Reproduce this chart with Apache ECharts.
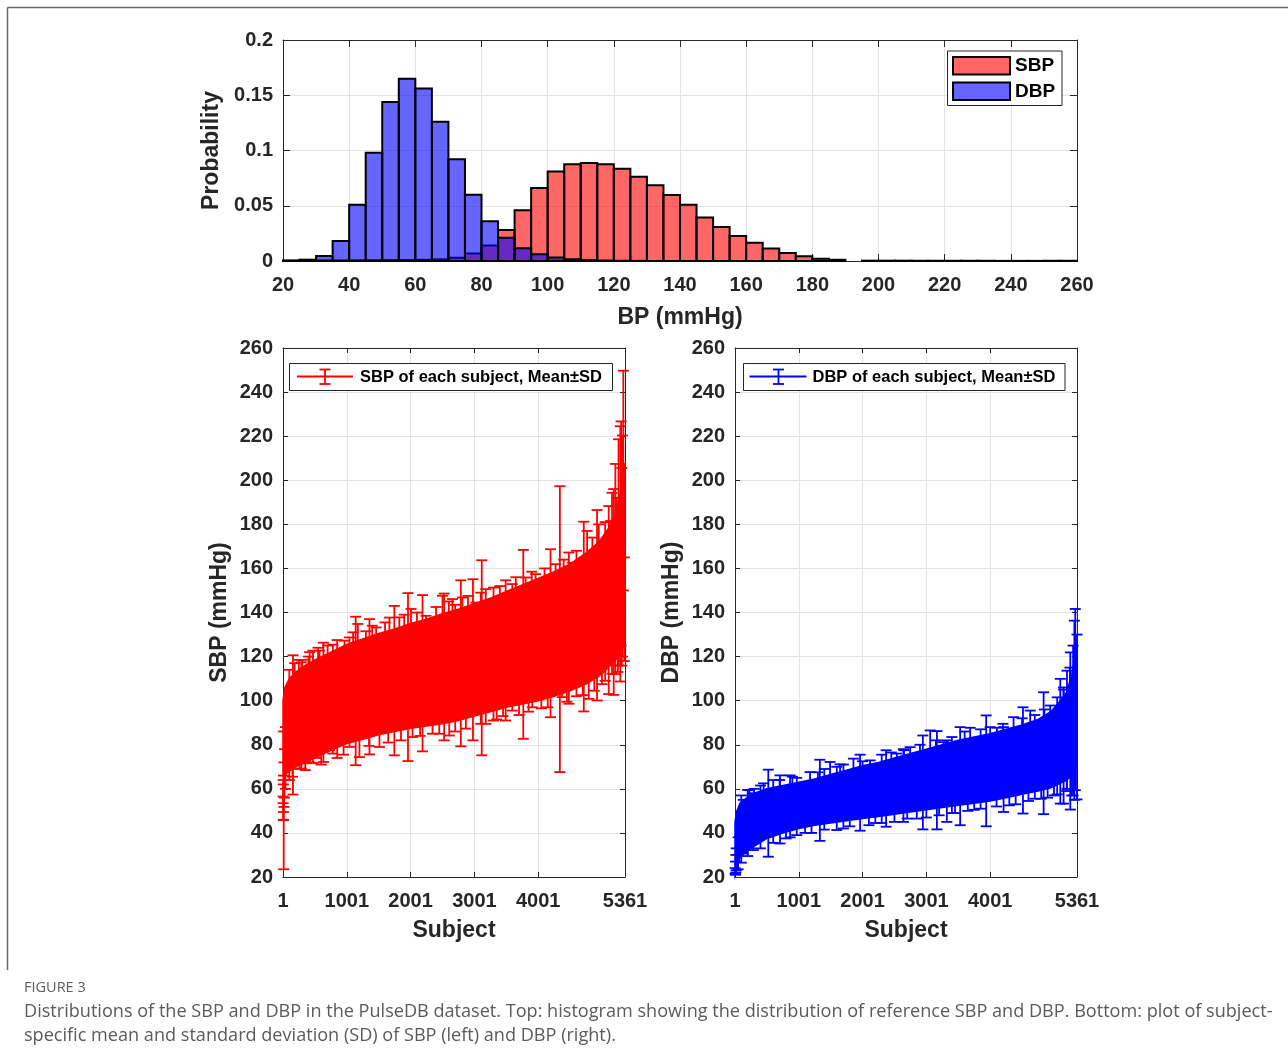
<!DOCTYPE html>
<html><head><meta charset="utf-8">
<script src="https://cdn.jsdelivr.net/npm/echarts@6/dist/echarts.min.js"></script>
<style>html,body{margin:0;padding:0;background:#fff}#c{width:1288px;height:1053px}</style>
</head><body><div id="c"></div>
<script>
// ---------------- DATA ----------------
// Histogram bins (start of each 5 mmHg bin)
const binStarts = [20,25,30,35,40,45,50,55,60,65,70,75,80,85,90,95,100,105,110,115,120,125,130,135,140,145,150,155,160,165,170,175,180,185,190,195,200,205,210,215,220,225,230,235,240,245,250,255];
const binWidth = 5;
const sbpProb = [0.0003,0.0004,0.0005,0.0005,0.0006,0.0007,0.0008,0.0009,0.0011,0.0015,0.003,0.0068,0.014,0.028,0.046,0.066,0.081,0.0876,0.0888,0.0876,0.0834,0.0762,0.0686,0.0598,0.0508,0.0393,0.0308,0.0227,0.0166,0.0112,0.0072,0.0042,0.002,0.0011,0,0.0003,0.0003,0.0003,0.0002,0.0002,0.0002,0.0002,0.0002,0.0001,0.0001,0.0001,0.0002,0.0002];
const dbpProb = [0.0004,0.0012,0.0045,0.018,0.051,0.098,0.144,0.165,0.156,0.126,0.092,0.060,0.036,0.021,0.0115,0.006,0.0032,0.0016,0.0008,0.0004,0.0002,0.0001,0,0,0,0,0,0,0,0,0,0,0,0,0,0,0,0,0,0,0,0,0,0,0,0,0,0];

// Subject axis tick labels
const subjectTicks = [1, 1001, 2001, 3001, 4001, 5361];

// SBP: dense core of the overlapping error bars (sorted subjects)
const sbpBandSubject = [1,30,100,200,350,500,750,1000,1250,1500,1750,2000,2250,2500,2750,3000,3250,3500,3750,4000,4250,4500,4750,4950,5100,5200,5280,5330,5361];
const sbpBandHigh    = [100,106,110,113,116,118.5,122,125.5,128,130.5,132.5,135,137,139.5,141.5,144,146.5,149.5,152.5,155.5,158.5,162,167,172,178,184,193,200,208];
const sbpBandLow     = [66,66.5,68,70,72,74,77.5,80.5,82.5,84.5,86,87.5,88.5,89.5,91,93,95,97,98.5,100,102,104.5,107.5,111,115,118,121,124,128];

// SBP: individually visible error bars [subject, mean-SD, mean+SD]
const sbpBars = [
 [3,53.5,56.5],[5,46,64],[7,49.5,62],[9,45.8,66],[12,23.5,86],[16,51.8,72],[25,56,78],[40,60,88],
 [157,57.4,120.6],[184,95,117],[260,69,95],[288,69.2,117.4],[300,92,118.5],[370,71.6,95],[418,95,122],
 [420,72,98],[470,71.7,122.7],[520,74,98],[574,98,122.7],[626,76.7,100],[634,72.2,126.3],[730,77.5,100],
 [782,76,125.4],[965,100,127.2],[1043,79,128.7],[1140,70.7,138.1],[1173,105,134.8],[1199,74.4,105],
 [1356,75.6,137],[1460,107,133.2],[1512,79,108],[1668,108,137.7],[1746,75.2,143],[1824,110,137.8],
 [1960,72.6,148.8],[2007,111,141.6],[2032,83.5,111],[2188,77,147.9],[2242,112,138.5],[2345,85,113],
 [2501,114,147.6],[2527,82,148.6],[2606,84.2,115],[2657,115,146.1],[2788,79.3,154.6],[2813,117,146.8],
 [2867,87.3,117],[2978,82,155.1],[3023,118,144.5],[3116,75.2,163.7],[3179,89.5,150.6],[3300,91,151.3],
 [3491,91,154.6],[3595,95.5,152.9],[3767,82.7,168.4],[3804,126,155.9],[3908,97,127],[3960,128,157.4],
 [4194,92.5,168.7],[4273,130,161.9],[4340,67.6,197.3],[4376,101.6,132],[4481,98.6,167.2],[4533,133,162.6],
 [4715,95.1,181.2],[4767,137,177],[4793,100.8,138],[4923,100.1,186.5],[4950,142,180],[5106,103,188.3],
 [5132,148,181.5],[5157,112.2,194.3],[5184,102.6,196],[5210,112,207.4],[5260,116,218.6],[5288,108.7,224.5],
 [5300,125,226.7],[5310,115.9,205.6],[5320,120,220.3],[5335,150,249.7],
 // ragged upper edge
 [100,89,114],[250,93,118.5],[400,95,120],[550,97,124],[700,99,125],[850,101,127.5],[1100,104,131],
 [1300,106,131.5],[1400,107,134],[1600,108,135.5],[1900,110,139],[2100,112,140],[2400,114,142.5],
 [2600,115,145],[2700,116,143.5],[2900,118,147.5],[3100,119,149],[3400,122,152],[3650,125,156],
 [3900,127,158.5],[4100,128,160],[4400,132,164],[4600,134,168],[4850,139,174],[5050,144,181],[5230,153,192],
 // ragged lower edge
 [100,64,89],[150,65.5,90],[350,68.5,94],[600,71,97],[850,74,101],[950,75.5,102],[1350,79.5,106],
 [1650,81,108],[1850,82,110],[2150,84,112],[2450,85,114],[2700,86,116],[3100,89.5,120],[3350,91.5,122],
 [3450,93,123],[3700,93.5,125],[3850,95,127],[4050,96.5,128],[4150,97,129],[4450,99.5,132],[4600,102,134],
 [4700,102.5,136],[4880,104.5,140],[5000,107.5,142],[5050,109,145],[5250,113,155],[5350,118,165]
];

// DBP: dense core
const dbpBandSubject = [1,30,80,250,500,750,1000,1250,1500,1750,2000,2250,2500,2750,3000,3250,3500,3750,4000,4250,4500,4750,4950,5100,5200,5280,5330,5361];
const dbpBandHigh    = [45,50,53.5,57.5,60,61.5,63,64.5,66.5,68.5,70.5,72,74,76,78,80,82,83.5,85,87,89,91.5,95,100,104,112,120,126];
const dbpBandLow     = [21,24,29,33,37.5,40,42,43.5,44.5,45.5,46.5,47.5,48.5,49.5,50.5,51.5,52.5,53.5,54.5,56,57.5,59,60.5,62.5,64,66,68,71];

// DBP: individually visible error bars [subject, mean-SD, mean+SD]
const dbpBars = [
 [3,21.5,24],[8,21,27],[14,22,30],[20,23,33],[131,30.7,55],[226,33,59.4],[288,32.2,58],[300,40,60],
 [450,42,62.5],[523,29.2,68.7],[600,45,64],[706,35.2,66.1],[864,38,66.1],[969,39,65],[1100,40,55],
 [1177,52,67.6],[1331,36.4,73.2],[1491,55,72.2],[1596,41.3,70],[1648,56,71.1],[1800,43,60],[1857,58,73.7],
 [1961,41,75.5],[2119,59,72.9],[2200,44.5,62],[2369,42.8,77.5],[2537,61,76],[2641,45,78],[2746,63,78.9],
 [2850,46.5,66],[2945,41.6,84.2],[3060,65,86.5],[3165,41.6,86.2],[3269,66,81.2],[3321,45,82],[3400,49,70],
 [3530,43.5,88],[3687,68,87.7],[3750,50.5,72],[3938,43,93.3],[4106,70,87.7],[4210,49.5,88],[4367,72,92.5],
 [4400,53,76],[4514,48.8,97],[4628,74,95.5],[4700,55.5,80],[4838,48.5,103.8],[4942,77,97.8],[5000,57,84],
 [5099,53.3,109.9],[5151,53.3,105],[5204,60,113.6],[5256,50.6,121.9],[5300,57,125],[5320,55,136.3],
 [5334,59.4,141.6],[5361,55.2,130],
 // ragged upper edge
 [100,42,57],[200,44,59.5],[400,47,61.5],[700,50,64],[900,52,65.5],[1300,54,67.5],[1400,55,69],[1700,57,71],
 [2000,58,72.5],[2300,60,75.5],[2450,61,76.5],[2650,62,77.5],[2900,64,80],[3150,65,82],[3400,67,83.5],
 [3600,68,86],[3850,69,87],[4000,70,88],[4200,71,89.5],[4500,73,92],[4700,75,93.5],[4850,76,96],
 [5050,80,101.5],[5150,83,106],[5250,87,115],
 // ragged lower edge
 [50,23.5,38],[100,26.5,42],[200,29.5,44],[400,33,47],[600,35.5,49],[800,37.5,51],[1200,40,54],[1400,41.5,55],
 [1700,42,57],[2100,43.5,59],[2300,44.5,60],[2500,45,61],[2700,46.5,62],[3000,47,64],[3200,48,65],[3450,49,67],
 [3650,50,68],[3850,51,69],[4100,52,70],[4300,52.5,72],[4600,54.5,74],[4800,55.5,76],[4900,56,77],
 [5050,57.5,80],[5200,59,85],[5280,57,90]
];

// ---------------- CHART ----------------
const FONT = '"Liberation Sans", Arial, Helvetica, sans-serif';
const AX = '#262626';
const GRIDC = '#e3e3e3';
const chart = echarts.init(document.getElementById('c'), null, {renderer: 'canvas'});

function histRender(fill) {
  return function (params, api) {
    const x0 = api.value(0), p = api.value(1);
    if (!(p > 0)) return null;
    const a = api.coord([x0, p]);
    const b = api.coord([x0 + binWidth, 0]);
    return {type: 'rect', shape: {x: a[0], y: a[1], width: b[0] - a[0], height: b[1] - a[1]},
      style: {fill: fill, stroke: '#000', lineWidth: 2}};
  };
}
function bandRender(subj, lo, hi, color) {
  return function (params, api) {
    const pts = [];
    for (let i = 0; i < subj.length; i++) pts.push(api.coord([subj[i], hi[i]]));
    for (let i = subj.length - 1; i >= 0; i--) pts.push(api.coord([subj[i], lo[i]]));
    return {type: 'polygon', shape: {points: pts}, style: {fill: color, stroke: color, lineWidth: 1.5}};
  };
}
function errRender(color) {
  return function (params, api) {
    const s = api.value(0), lo = api.value(1), hi = api.value(2);
    const a = api.coord([s, lo]), b = api.coord([s, hi]);
    const hw = 5.5;
    const st = {stroke: color, lineWidth: 1.8};
    return {type: 'group', children: [
      {type: 'line', shape: {x1: a[0], y1: a[1], x2: b[0], y2: b[1]}, style: st},
      {type: 'line', shape: {x1: a[0] - hw, y1: a[1], x2: a[0] + hw, y2: a[1]}, style: st},
      {type: 'line', shape: {x1: b[0] - hw, y1: b[1], x2: b[0] + hw, y2: b[1]}, style: st}
    ]};
  };
}

const labelStyle = {color: AX, fontSize: 20, fontWeight: 'bold', fontFamily: FONT};
const nameStyle = {color: AX, fontSize: 23, fontWeight: 'bold', fontFamily: FONT};
const fmtPlain = v => String(v);

function xMain(grid, extra) {
  return Object.assign({
    gridIndex: grid, type: 'value', position: 'bottom',
    axisLine: {show: true, onZero: false, lineStyle: {color: AX, width: 1}},
    axisTick: {show: true, inside: true, length: 7, lineStyle: {color: AX}},
    axisLabel: Object.assign({margin: 14, formatter: fmtPlain}, labelStyle),
    splitLine: {show: true, lineStyle: {color: GRIDC, width: 1}},
    nameLocation: 'middle', nameTextStyle: nameStyle
  }, extra);
}
function xTop(grid, extra) {
  return Object.assign({
    gridIndex: grid, type: 'value', position: 'top',
    axisLine: {show: true, onZero: false, lineStyle: {color: AX, width: 1}},
    axisTick: {show: true, inside: true, length: 7, lineStyle: {color: AX}},
    axisLabel: {show: false}, splitLine: {show: false}
  }, extra);
}
function yMain(grid, extra) {
  return Object.assign({
    gridIndex: grid, type: 'value', position: 'left',
    axisLine: {show: true, onZero: false, lineStyle: {color: AX, width: 1}},
    axisTick: {show: true, inside: true, length: 7, lineStyle: {color: AX}},
    axisLabel: Object.assign({margin: 10}, labelStyle),
    splitLine: {show: true, lineStyle: {color: GRIDC, width: 1}},
    nameLocation: 'middle', nameRotate: 90, nameTextStyle: nameStyle
  }, extra);
}
function yRight(grid, extra) {
  return Object.assign({
    gridIndex: grid, type: 'value', position: 'right',
    axisLine: {show: true, onZero: false, lineStyle: {color: AX, width: 1}},
    axisTick: {show: true, inside: true, length: 7, lineStyle: {color: AX}},
    axisLabel: {show: false}, splitLine: {show: false}
  }, extra);
}

const subjTick = {show: true, inside: true, length: 5, lineStyle: {color: AX}, customValues: subjectTicks};
const subjLabel = Object.assign({margin: 14, formatter: fmtPlain, customValues: subjectTicks}, labelStyle);
const bpTick = {show: true, inside: true, length: 5, lineStyle: {color: AX}};

const option = {
  animation: false,
  backgroundColor: '#fff',
  grid: [
    {left: 283, top: 40, width: 794, height: 221},
    {left: 283, top: 348, width: 342, height: 529},
    {left: 735, top: 348, width: 342, height: 529}
  ],
  xAxis: [
    xMain(0, {min: 20, max: 260, interval: 20, name: 'BP (mmHg)', nameGap: 45}),
    xTop(0, {min: 20, max: 260, interval: 20}),
    xMain(1, {min: 1, max: 5361, axisTick: subjTick, axisLabel: subjLabel, name: 'Subject', nameGap: 42}),
    xTop(1, {min: 1, max: 5361, axisTick: subjTick}),
    xMain(2, {min: 1, max: 5361, axisTick: subjTick, axisLabel: subjLabel, name: 'Subject', nameGap: 42}),
    xTop(2, {min: 1, max: 5361, axisTick: subjTick})
  ],
  yAxis: [
    yMain(0, {min: 0, max: 0.2, interval: 0.05, name: 'Probability', nameGap: 58}),
    yRight(0, {min: 0, max: 0.2, interval: 0.05}),
    yMain(1, {min: 20, max: 260, interval: 20, axisTick: bpTick, name: 'SBP (mmHg)', nameGap: 52}),
    yRight(1, {min: 20, max: 260, interval: 20, axisTick: bpTick}),
    yMain(2, {min: 20, max: 260, interval: 20, axisTick: bpTick, name: 'DBP (mmHg)', nameGap: 52}),
    yRight(2, {min: 20, max: 260, interval: 20, axisTick: bpTick})
  ],
  series: [
    {type: 'custom', name: 'SBP', xAxisIndex: 0, yAxisIndex: 0, renderItem: histRender('rgba(255,0,0,0.6)'),
      data: binStarts.map((b, i) => [b, sbpProb[i]]), encode: {x: 0, y: 1}, z: 2},
    {type: 'custom', name: 'DBP', xAxisIndex: 0, yAxisIndex: 0, renderItem: histRender('rgba(0,0,255,0.6)'),
      data: binStarts.map((b, i) => [b, dbpProb[i]]), encode: {x: 0, y: 1}, z: 3},
    {type: 'custom', name: 'SBP band', xAxisIndex: 2, yAxisIndex: 2,
      renderItem: bandRender(sbpBandSubject, sbpBandLow, sbpBandHigh, '#ff0000'),
      data: [[sbpBandSubject[0], sbpBandLow[0]]], encode: {x: 0, y: 1}, z: 2, silent: true},
    {type: 'custom', name: 'SBP of each subject', xAxisIndex: 2, yAxisIndex: 2, renderItem: errRender('#ff0000'),
      data: sbpBars, encode: {x: 0, y: [1, 2]}, z: 3},
    {type: 'custom', name: 'DBP band', xAxisIndex: 4, yAxisIndex: 4,
      renderItem: bandRender(dbpBandSubject, dbpBandLow, dbpBandHigh, '#0000ff'),
      data: [[dbpBandSubject[0], dbpBandLow[0]]], encode: {x: 0, y: 1}, z: 2, silent: true},
    {type: 'custom', name: 'DBP of each subject', xAxisIndex: 4, yAxisIndex: 4, renderItem: errRender('#0000ff'),
      data: dbpBars, encode: {x: 0, y: [1, 2]}, z: 3}
  ],
  graphic: [
    // outer figure frame
    {type: 'line', shape: {x1: 7.5, y1: 7.5, x2: 1288, y2: 7.5}, style: {stroke: '#6b6b6b', lineWidth: 1.5}, z: 10},
    {type: 'line', shape: {x1: 7.5, y1: 7.5, x2: 7.5, y2: 970}, style: {stroke: '#6b6b6b', lineWidth: 1.5}, z: 10},
    // histogram legend
    {type: 'rect', shape: {x: 947.5, y: 51, width: 114.5, height: 54.5}, style: {fill: '#fff', stroke: AX, lineWidth: 1}, z: 20},
    {type: 'rect', shape: {x: 953, y: 57, width: 57, height: 17.5}, style: {fill: 'rgba(255,0,0,0.6)', stroke: '#000', lineWidth: 2}, z: 21},
    {type: 'rect', shape: {x: 953, y: 82.5, width: 57, height: 17.5}, style: {fill: 'rgba(0,0,255,0.6)', stroke: '#000', lineWidth: 2}, z: 21},
    {type: 'text', style: {x: 1015, y: 66, text: 'SBP', fill: '#000', font: 'bold 19px ' + FONT, textVerticalAlign: 'middle'}, z: 21},
    {type: 'text', style: {x: 1015, y: 91.5, text: 'DBP', fill: '#000', font: 'bold 19px ' + FONT, textVerticalAlign: 'middle'}, z: 21},
    // SBP error-bar legend
    {type: 'rect', shape: {x: 289.5, y: 363.5, width: 323, height: 27}, style: {fill: '#fff', stroke: AX, lineWidth: 1}, z: 20},
    {type: 'line', shape: {x1: 297, y1: 376.5, x2: 353, y2: 376.5}, style: {stroke: '#ff0000', lineWidth: 1.8}, z: 21},
    {type: 'line', shape: {x1: 325, y1: 369.5, x2: 325, y2: 384}, style: {stroke: '#ff0000', lineWidth: 1.8}, z: 21},
    {type: 'line', shape: {x1: 319.5, y1: 369.5, x2: 330.5, y2: 369.5}, style: {stroke: '#ff0000', lineWidth: 1.8}, z: 21},
    {type: 'line', shape: {x1: 319.5, y1: 384, x2: 330.5, y2: 384}, style: {stroke: '#ff0000', lineWidth: 1.8}, z: 21},
    {type: 'text', style: {x: 360, y: 377.5, text: 'SBP of each subject, Mean\u00B1SD', fill: '#000', font: 'bold 16.5px ' + FONT, textVerticalAlign: 'middle'}, z: 21},
    // DBP error-bar legend
    {type: 'rect', shape: {x: 743.5, y: 363.5, width: 321.5, height: 27}, style: {fill: '#fff', stroke: AX, lineWidth: 1}, z: 20},
    {type: 'line', shape: {x1: 749.5, y1: 376.5, x2: 806.5, y2: 376.5}, style: {stroke: '#0000ff', lineWidth: 1.8}, z: 21},
    {type: 'line', shape: {x1: 778.5, y1: 369.5, x2: 778.5, y2: 384}, style: {stroke: '#0000ff', lineWidth: 1.8}, z: 21},
    {type: 'line', shape: {x1: 773, y1: 369.5, x2: 784, y2: 369.5}, style: {stroke: '#0000ff', lineWidth: 1.8}, z: 21},
    {type: 'line', shape: {x1: 773, y1: 384, x2: 784, y2: 384}, style: {stroke: '#0000ff', lineWidth: 1.8}, z: 21},
    {type: 'text', style: {x: 812.5, y: 377.5, text: 'DBP of each subject, Mean\u00B1SD', fill: '#000', font: 'bold 16.5px ' + FONT, textVerticalAlign: 'middle'}, z: 21},
    // caption
    {type: 'text', style: {x: 24, y: 988, text: 'FIGURE 3', fill: '#5e5e5e', font: '14.5px "Open Sans", sans-serif', textVerticalAlign: 'middle'}, z: 21},
    {type: 'text', style: {x: 24, y: 1012, text: 'Distributions of the SBP and DBP in the PulseDB dataset. Top: histogram showing the distribution of reference SBP and DBP. Bottom: plot of subject-', fill: '#5a5a5a', font: '18.1px "Open Sans", sans-serif', textVerticalAlign: 'middle'}, z: 21},
    {type: 'text', style: {x: 24, y: 1036, text: 'specific mean and standard deviation (SD) of SBP (left) and DBP (right).', fill: '#5a5a5a', font: '18.1px "Open Sans", sans-serif', textVerticalAlign: 'middle'}, z: 21}
  ]
};
chart.setOption(option);
</script>
</body></html>
